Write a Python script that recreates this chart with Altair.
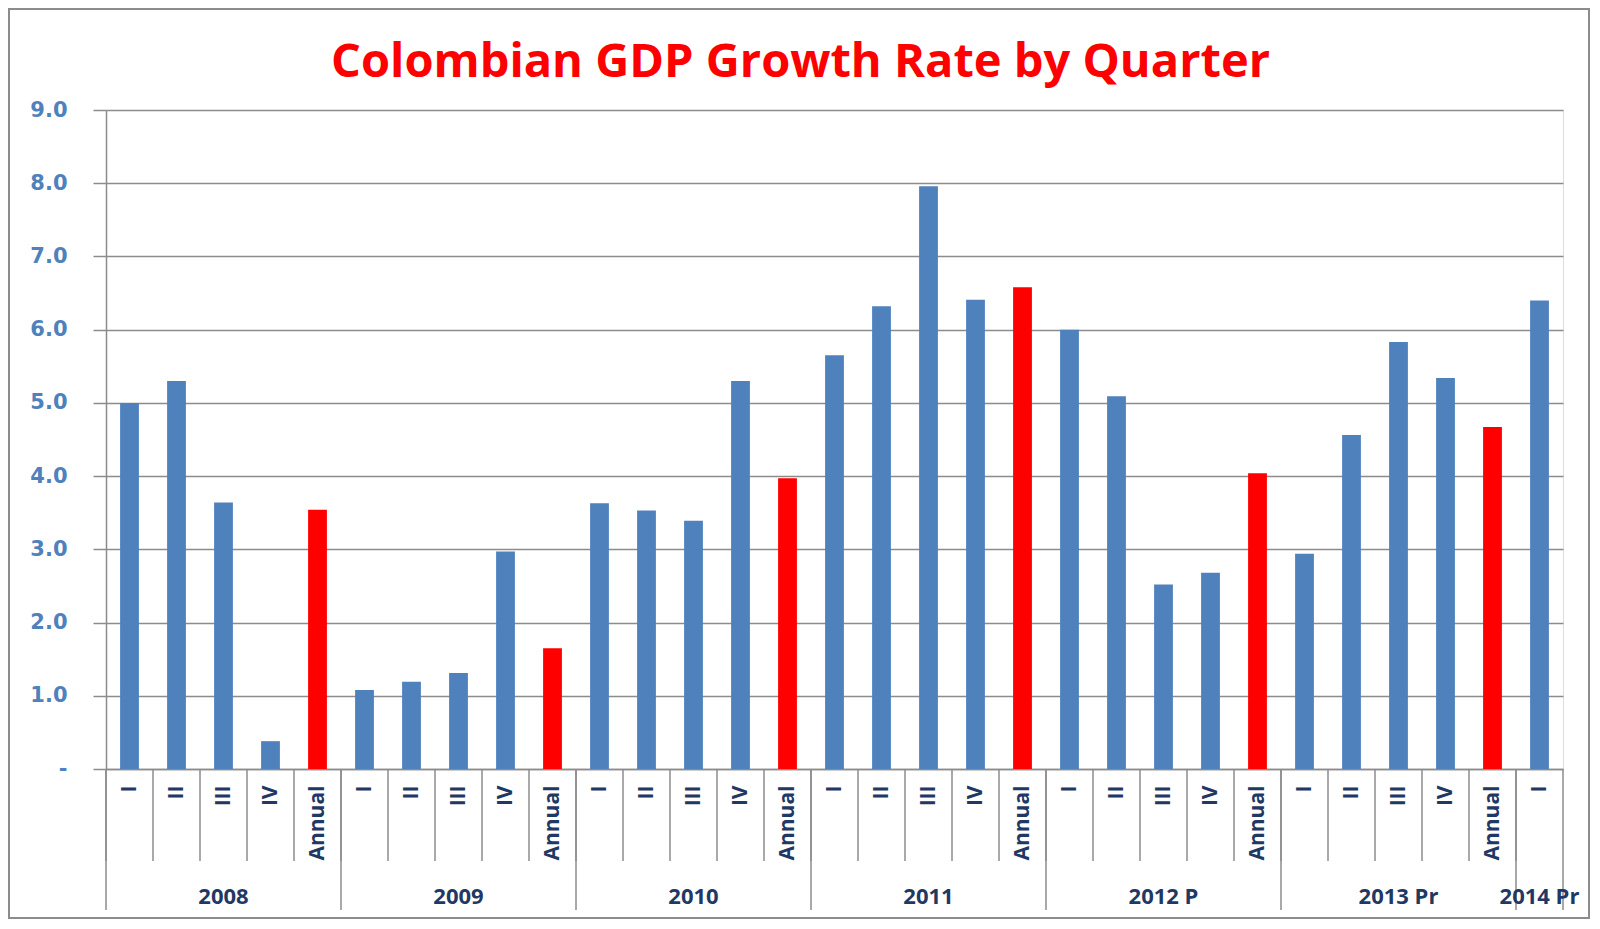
import altair as alt
import pandas as pd

years = ["2008", "2009", "2010", "2011", "2012 P", "2013 Pr", "2014 Pr"]
periods = ["I", "II", "III", "IV", "Annual"]

values_2008 = [5.0, 5.3, 3.64, 0.38, 3.54]
values_2009 = [1.08, 1.19, 1.31, 2.97, 1.65]
values_2010 = [3.63, 3.53, 3.39, 5.30, 3.97]
values_2011 = [5.65, 6.32, 7.96, 6.41, 6.58]
values_2012 = [6.0, 5.09, 2.52, 2.68, 4.04]
values_2013 = [2.94, 4.56, 5.83, 5.34, 4.67]
values_2014 = [6.40]

all_values = [values_2008, values_2009, values_2010, values_2011,
              values_2012, values_2013, values_2014]

rows = []
for y, vals in zip(years, all_values):
    for p, v in zip(periods, vals):
        rows.append({"key": f"{y}|{p}", "year": y, "period": p, "value": v,
                     "kind": "Annual" if p == "Annual" else "Quarter"})
df = pd.DataFrame(rows)
order = list(df["key"])

year_rows = []
for y, vals in zip(years, all_values):
    centre = periods[len(vals) // 2] if len(vals) > 1 else periods[0]
    year_rows.append({"key": f"{y}|{centre}", "year": y})
df_years = pd.DataFrame(year_rows)

all_keys = pd.DataFrame({"key": order})
starts = pd.DataFrame({"key": [f"{y}|I" for y in years]})
ends = pd.DataFrame({"key": [order[-1]]})

W, H = 1457, 659
PADL, PADT, PADR, PADB = 98, 102, 27, 150
NAVY = "#1F3864"
GRID = "#8C8C8C"

xscale = alt.Scale(domain=order, paddingInner=0, paddingOuter=0)

bars = alt.Chart(df).mark_bar(width={"band": 0.4}).encode(
    x=alt.X("key:N", sort=order, scale=xscale, title=None,
            axis=alt.Axis(labelExpr="split(datum.label, '|')[1]",
                          labelAngle=270, labelFont="Open Sans",
                          labelFontWeight="bold", labelFontSize=21,
                          labelColor=NAVY, ticks=False, labelPadding=16,
                          domainColor=GRID, domainWidth=1.5, grid=False)),
    y=alt.Y("value:Q", scale=alt.Scale(domain=[0, 9]), title=None,
            axis=alt.Axis(values=[0, 1, 2, 3, 4, 5, 6, 7, 8, 9],
                          labelExpr="datum.value == 0 ? '-' : format(datum.value, '.1f')",
                          labelFont="DejaVu Sans", labelFontWeight="bold",
                          labelFontSize=21, labelColor="#4F81BD",
                          tickSize=13, tickColor=GRID, tickWidth=1.5,
                          labelPadding=26, domainColor=GRID, domainWidth=1.5,
                          gridColor=GRID, gridWidth=1.5, grid=True)),
    color=alt.Color("kind:N", scale=alt.Scale(domain=["Quarter", "Annual"],
                                              range=["#4F81BD", "#FF0000"]),
                    legend=None),
)

quarter_rules = alt.Chart(all_keys).mark_rule(color=GRID, strokeWidth=1.5).encode(
    x=alt.X("key:N", sort=order, scale=xscale, bandPosition=0),
    y=alt.value(H), y2=alt.value(H + 92))

year_rules = alt.Chart(starts).mark_rule(color=GRID, strokeWidth=1.5).encode(
    x=alt.X("key:N", sort=order, scale=xscale, bandPosition=0),
    y=alt.value(H), y2=alt.value(H + 141))

end_rule = alt.Chart(ends).mark_rule(color=GRID, strokeWidth=1.5).encode(
    x=alt.X("key:N", sort=order, scale=xscale, bandPosition=1),
    y=alt.value(H), y2=alt.value(H + 141))

year_text = alt.Chart(df_years).mark_text(
    font="Open Sans", fontWeight="bold", fontSize=22, color=NAVY,
    baseline="middle", align="center").encode(
    x=alt.X("key:N", sort=order, scale=xscale),
    y=alt.value(H + 128),
    text="year:N")

frame = alt.Chart(ends).mark_rect(fill=None, stroke=GRID, strokeWidth=2).encode(
    x=alt.value(-PADL + 1), x2=alt.value(W + PADR - 1),
    y=alt.value(-PADT + 1), y2=alt.value(H + PADB - 1))

chart = alt.layer(bars, quarter_rules, year_rules, end_rule, year_text, frame).properties(
    width=W, height=H,
    title=alt.TitleParams("Colombian GDP Growth Rate by Quarter",
                          font="Open Sans", fontSize=47, fontWeight="bold",
                          color="#FF0000", anchor="middle", frame="group",
                          baseline="alphabetic", offset=0, dy=116, dx=-34),
    autosize=alt.AutoSizeParams(type="none"),
    padding={"left": PADL, "top": PADT, "right": PADR, "bottom": PADB},
).configure_view(stroke=None).configure(background="white")

chart.save("out.html", embed_options={"renderer": "svg", "actions": False})
